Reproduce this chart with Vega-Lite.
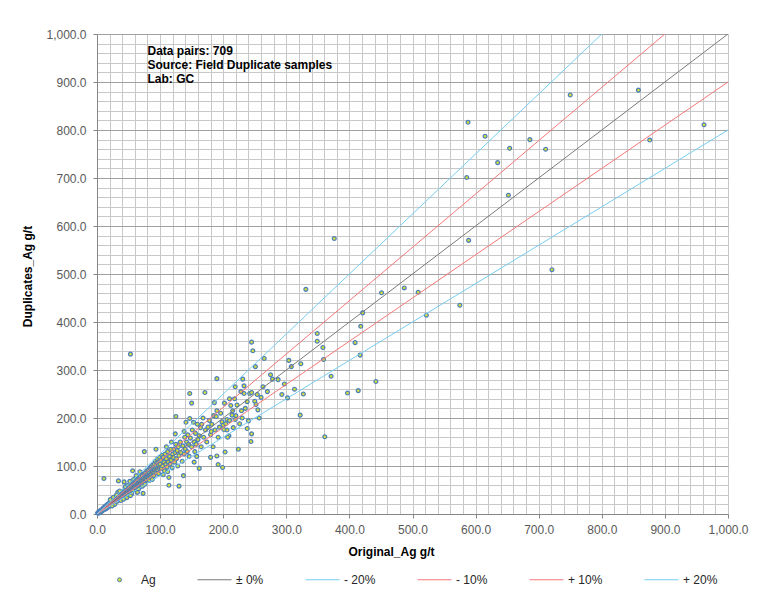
{
 "$schema": "https://vega.github.io/schema/vega-lite/v6.json",
 "width": 631,
 "height": 480,
 "autosize": {"type": "none"},
 "padding": {"left": 97, "top": 34, "right": 40, "bottom": 82},
 "background": "white",
 "config": {
  "view": {"stroke": null},
  "font": "Liberation Sans",
  "axis": {
   "format": ",.1f",
   "labelExpr": "datum.value % 100 === 0 ? datum.label : ''",
   "labelFlush": false, "labelOverlap": false,
   "labelFont": "Liberation Sans", "labelFontSize": 12, "labelColor": "#595959",
   "tickSize": 4,
   "tickColor": {"condition": {"test": "datum.value % 100 === 0", "value": "#868686"}, "value": "transparent"},
   "grid": true, "gridWidth": 1,
   "domainColor": "#868686",
   "titleFont": "Liberation Sans", "titleFontSize": 12, "titleFontWeight": "bold", "titleColor": "#000000"
  },
  "axisX": {"labelPadding": 6, "gridColor": "#c8c8c8", "titleX": 294, "titleY": 37, "titleBaseline": "middle", "titleAlign": "center"},
  "axisY": {"labelPadding": 7, "gridColor": {"condition": {"test": "datum.value % 100 === 0", "value": "#a0a0a0"}, "value": "#c8c8c8"}, "titleX": -70, "titleY": 242, "titleAngle": 270, "titleBaseline": "middle", "titleAlign": "center"}
 },
 "datasets": {
  "lines": [
   {"s": "± 0%", "x": 0, "y": 0}, {"s": "± 0%", "x": 1000, "y": 1000},
   {"s": "- 20%", "x": 0, "y": 0}, {"s": "- 20%", "x": 1000, "y": 800},
   {"s": "- 10%", "x": 0, "y": 0}, {"s": "- 10%", "x": 1000, "y": 900},
   {"s": "+ 10%", "x": 0, "y": 0}, {"s": "+ 10%", "x": 900, "y": 1000},
   {"s": "+ 20%", "x": 0, "y": 0}, {"s": "+ 20%", "x": 800, "y": 1000}
  ],
  "pts": [
   {"x":1,"y":2},{"x":2,"y":1.5},{"x":2.5,"y":4},{"x":3,"y":3},{"x":4,"y":2.5},{"x":4.5,"y":6},{"x":5,"y":5},{"x":6,"y":4.5},{"x":6.5,"y":8},{"x":7,"y":7},{"x":8,"y":6},{"x":9,"y":11},{"x":9.5,"y":8},
   {"x":10,"y":12},{"x":10.5,"y":9},{"x":11,"y":10},{"x":11.5,"y":14},{"x":12,"y":13},{"x":12.5,"y":10},{"x":13,"y":16},{"x":13.5,"y":12},{"x":14,"y":15},{"x":14.5,"y":11},{"x":15,"y":18},{"x":15.5,"y":14},{"x":16,"y":17},{"x":16.5,"y":13},{"x":17,"y":20},{"x":17.5,"y":16},{"x":18,"y":19},{"x":18.5,"y":15},{"x":19,"y":22},{"x":19.5,"y":17},
   {"x":20,"y":21},{"x":20.5,"y":25},{"x":21,"y":18},{"x":21.5,"y":23},{"x":22,"y":20},{"x":22.5,"y":27},{"x":23,"y":24},{"x":23.5,"y":19},{"x":24,"y":26},{"x":24.5,"y":29},{"x":25,"y":22},{"x":25.5,"y":27},{"x":26,"y":24},{"x":26.5,"y":31},{"x":27,"y":25},{"x":27.5,"y":22},{"x":28,"y":30},{"x":28.5,"y":26},{"x":29,"y":33},{"x":29.5,"y":27},{"x":21,"y":30},{"x":26,"y":35},{"x":28,"y":20},{"x":24,"y":17},{"x":30,"y":28},
   {"x":30.5,"y":34},{"x":31,"y":30},{"x":31.5,"y":26},{"x":32,"y":36},{"x":32.5,"y":31},{"x":33,"y":29},{"x":33.5,"y":38},{"x":34,"y":33},{"x":34.5,"y":40},{"x":35,"y":31},{"x":35.5,"y":37},{"x":36,"y":34},{"x":36.5,"y":29},{"x":37,"y":42},{"x":37.5,"y":35},{"x":38,"y":39},{"x":38.5,"y":33},{"x":39,"y":44},{"x":39.5,"y":36},{"x":40,"y":38},{"x":33,"y":45},{"x":36,"y":48},{"x":38,"y":28},{"x":34,"y":69},{"x":31,"y":40},
   {"x":40.5,"y":43},{"x":41,"y":37},{"x":41.5,"y":46},{"x":42,"y":40},{"x":42.5,"y":35},{"x":43,"y":48},{"x":43.5,"y":42},{"x":44,"y":39},{"x":44.5,"y":50},{"x":45,"y":44},{"x":45.5,"y":40},{"x":46,"y":52},{"x":46.5,"y":45},{"x":47,"y":41},{"x":47.5,"y":54},{"x":48,"y":47},{"x":48.5,"y":43},{"x":49,"y":51},{"x":49.5,"y":38},{"x":50,"y":49},{"x":43,"y":67},{"x":45,"y":57},{"x":47,"y":34},{"x":49,"y":60},{"x":42,"y":31},
   {"x":50.5,"y":55},{"x":51,"y":46},{"x":51.5,"y":52},{"x":52,"y":58},{"x":52.5,"y":49},{"x":53,"y":44},{"x":53.5,"y":61},{"x":54,"y":53},{"x":54.5,"y":48},{"x":55,"y":57},{"x":55.5,"y":63},{"x":56,"y":51},{"x":56.5,"y":90},{"x":57,"y":55},{"x":57.5,"y":60},{"x":58,"y":50},{"x":58.5,"y":65},{"x":59,"y":56},{"x":59.5,"y":62},{"x":60,"y":54},{"x":52,"y":68},{"x":55,"y":42},{"x":58,"y":72},{"x":53,"y":38},{"x":60,"y":66},
   {"x":60.5,"y":59},{"x":61,"y":64},{"x":61.5,"y":55},{"x":62,"y":70},{"x":62.5,"y":60},{"x":63,"y":49},{"x":63.5,"y":66},{"x":64,"y":58},{"x":64.5,"y":73},{"x":65,"y":63},{"x":65.5,"y":68},{"x":66,"y":57},{"x":66.5,"y":75},{"x":67,"y":64},{"x":67.5,"y":70},{"x":68,"y":60},{"x":68.5,"y":78},{"x":69,"y":66},{"x":69.5,"y":62},{"x":70,"y":72},{"x":62,"y":80},{"x":66,"y":52},{"x":68,"y":88},{"x":64,"y":45},{"x":70,"y":58},
   {"x":70.5,"y":68},{"x":71,"y":76},{"x":71.5,"y":64},{"x":72,"y":80},{"x":72.5,"y":70},{"x":73,"y":43},{"x":73.5,"y":75},{"x":74,"y":67},{"x":74.5,"y":84},{"x":75,"y":130},{"x":75.5,"y":73},{"x":76,"y":79},{"x":76.5,"y":69},{"x":77,"y":86},{"x":77.5,"y":74},{"x":78,"y":81},{"x":78.5,"y":71},{"x":79,"y":90},{"x":79.5,"y":77},{"x":80,"y":84},{"x":72,"y":58},{"x":76,"y":62},
   {"x":80.5,"y":78},{"x":81,"y":88},{"x":81.5,"y":74},{"x":82,"y":92},{"x":82.5,"y":80},{"x":83,"y":70},{"x":83.5,"y":86},{"x":84,"y":96},{"x":84.5,"y":81},{"x":85,"y":76},{"x":85.5,"y":90},{"x":86,"y":99},{"x":86.5,"y":83},{"x":87,"y":94},{"x":87.5,"y":72},{"x":88,"y":88},{"x":88.5,"y":102},{"x":89,"y":85},{"x":89.5,"y":95},{"x":90,"y":80},
   {"x":90.5,"y":92},{"x":91,"y":104},{"x":91.5,"y":87},{"x":92,"y":97},{"x":92.5,"y":110},{"x":93,"y":90},{"x":93.5,"y":135},{"x":94,"y":100},{"x":94.5,"y":86},{"x":95,"y":107},{"x":95.5,"y":95},{"x":96,"y":115},{"x":96.5,"y":92},{"x":97,"y":102},{"x":97.5,"y":84},{"x":98,"y":108},{"x":98.5,"y":97},{"x":99,"y":118},{"x":99.5,"y":94},{"x":100,"y":104},
   {"x":101,"y":112},{"x":102,"y":95},{"x":103,"y":122},{"x":104,"y":100},{"x":105,"y":118},{"x":106,"y":108},{"x":107,"y":90},{"x":108,"y":125},{"x":109,"y":103},{"x":110,"y":115},{"x":111,"y":98},{"x":112,"y":130},{"x":113,"y":108},{"x":114,"y":76},{"x":114,"y":60},{"x":115,"y":120},{"x":116,"y":104},{"x":117,"y":135},{"x":118,"y":112},{"x":119,"y":96},{"x":120,"y":125},{"x":110,"y":140},{"x":105,"y":82},{"x":118,"y":150},{"x":112,"y":88},
   {"x":121,"y":118},{"x":122,"y":135},{"x":123,"y":108},{"x":124,"y":128},{"x":125,"y":145},{"x":126,"y":115},{"x":127,"y":132},{"x":128,"y":100},{"x":129,"y":140},{"x":130,"y":58},{"x":130,"y":122},{"x":132,"y":150},{"x":133,"y":128},{"x":135,"y":110},{"x":136,"y":142},{"x":137,"y":80},{"x":138,"y":172},{"x":138,"y":125},{"x":139,"y":160},{"x":140,"y":135},
   {"x":141,"y":191},{"x":142,"y":150},{"x":143,"y":130},{"x":144,"y":165},{"x":145,"y":145},{"x":146,"y":120},{"x":147,"y":199},{"x":147,"y":251},{"x":148,"y":158},{"x":150,"y":231},{"x":150,"y":140},{"x":151,"y":175},{"x":153,"y":191},{"x":154,"y":150},{"x":155,"y":130},{"x":156,"y":168},{"x":157,"y":145},{"x":159,"y":187},{"x":160,"y":155},{"x":158,"y":120},
   {"x":162,"y":163},{"x":164,"y":180},{"x":165,"y":140},{"x":166,"y":187},{"x":168,"y":200},{"x":169,"y":160},{"x":171,"y":253},{"x":172,"y":175},{"x":174,"y":150},{"x":176,"y":181},{"x":178,"y":195},{"x":180,"y":165},{"x":181,"y":172},{"x":182,"y":187},{"x":184,"y":140},{"x":185,"y":205},{"x":186,"y":232},{"x":187,"y":175},{"x":189,"y":203},{"x":190,"y":215},{"x":190,"y":282},{"x":192,"y":160},{"x":194,"y":181},{"x":196,"y":210},{"x":198,"y":192},{"x":200,"y":185},{"x":125,"y":203},{"x":124,"y":167},
   {"x":192,"y":103},{"x":199,"y":97},{"x":190,"y":121},{"x":162,"y":95},{"x":180,"y":118},{"x":154,"y":108},{"x":203,"y":129},{"x":209,"y":163},{"x":206,"y":175},{"x":206,"y":197},{"x":219,"y":197},{"x":214,"y":206},{"x":215,"y":215},{"x":229,"y":215},{"x":222,"y":227},{"x":202,"y":231},{"x":210,"y":240},{"x":238,"y":234},{"x":233,"y":251},{"x":242,"y":251},{"x":219,"y":265},{"x":233,"y":267},{"x":231,"y":281},
   {"x":201,"y":176},{"x":204,"y":188},{"x":207,"y":160},{"x":210,"y":195},{"x":212,"y":226},{"x":216,"y":180},{"x":218,"y":240},{"x":220,"y":205},{"x":224,"y":135},{"x":226,"y":188},{"x":228,"y":255},{"x":230,"y":200},{"x":235,"y":220},{"x":238,"y":178},{"x":240,"y":194},{"x":244,"y":151},{"x":245,"y":167},{"x":245,"y":253},{"x":247,"y":340},{"x":245,"y":358},{"x":250,"y":235},{"x":254,"y":249},{"x":255,"y":217},{"x":257,"y":200},{"x":252,"y":228},{"x":263,"y":265},{"x":265,"y":324},{"x":251,"y":307},{"x":260,"y":243},{"x":270,"y":255},{"x":275,"y":290},{"x":278,"y":281},{"x":287,"y":280},{"x":297,"y":271},{"x":293,"y":249},{"x":302,"y":242},{"x":304,"y":320},{"x":308,"y":307},{"x":313,"y":260},{"x":322,"y":206},{"x":323,"y":313},{"x":327,"y":250},{"x":331,"y":468},{"x":349,"y":376},{"x":349,"y":360},{"x":358,"y":347},{"x":359,"y":322},{"x":361,"y":161},{"x":371,"y":287},{"x":376,"y":574},{"x":397,"y":252},{"x":409,"y":357},{"x":414,"y":257},{"x":417,"y":331},{"x":418,"y":391},{"x":421,"y":419},{"x":442,"y":276},{"x":451,"y":461},{"x":487,"y":471},{"x":509,"y":462},{"x":522,"y":414},{"x":575,"y":435},{"x":588,"y":816},{"x":750,"y":873},{"x":858,"y":883},{"x":615,"y":787},{"x":686,"y":780},{"x":962,"y":811},{"x":654,"y":762},{"x":711,"y":760},{"x":876,"y":779},{"x":635,"y":732},{"x":586,"y":701},{"x":652,"y":664},{"x":589,"y":570},{"x":721,"y":509},{"x":53,"y":333},{"x":11,"y":74}
  ]
 },
 "layer": [
  {
   "data": {"name": "pts"},
   "mark": {"type": "point", "filled": false, "fill": "#d6de3a", "fillOpacity": 1, "size": 15, "strokeWidth": 1.2, "opacity": 1},
   "encoding": {
    "x": {
     "field": "x", "type": "quantitative",
     "scale": {"domain": [0, 1000], "nice": false},
     "axis": {"values": [0,20,40,60,80,100,120,140,160,180,200,220,240,260,280,300,320,340,360,380,400,420,440,460,480,500,520,540,560,580,600,620,640,660,680,700,720,740,760,780,800,820,840,860,880,900,920,940,960,980,1000], "title": "Original_Ag g/t"}
    },
    "y": {
     "field": "y", "type": "quantitative",
     "scale": {"domain": [0, 1000], "nice": false},
     "axis": {"values": [0,20,40,60,80,100,120,140,160,180,200,220,240,260,280,300,320,340,360,380,400,420,440,460,480,500,520,540,560,580,600,620,640,660,680,700,720,740,760,780,800,820,840,860,880,900,920,940,960,980,1000], "title": "Duplicates_Ag g/t"}
    },
    "color": {"datum": "Ag", "type": "nominal"}
   }
  },
  {
   "data": {"name": "lines"},
   "mark": {"type": "line", "strokeWidth": 1, "clip": true},
   "encoding": {
    "x": {
     "field": "x", "type": "quantitative",
     "axis": {"values": [0,20,40,60,80,100,120,140,160,180,200,220,240,260,280,300,320,340,360,380,400,420,440,460,480,500,520,540,560,580,600,620,640,660,680,700,720,740,760,780,800,820,840,860,880,900,920,940,960,980,1000], "title": "Original_Ag g/t"}
    },
    "y": {
     "field": "y", "type": "quantitative",
     "axis": {"values": [0,20,40,60,80,100,120,140,160,180,200,220,240,260,280,300,320,340,360,380,400,420,440,460,480,500,520,540,560,580,600,620,640,660,680,700,720,740,760,780,800,820,840,860,880,900,920,940,960,980,1000], "title": "Duplicates_Ag g/t"}
    },
    "color": {
     "field": "s", "type": "nominal",
     "scale": {"domain": ["Ag", "± 0%", "- 20%", "- 10%", "+ 10%", "+ 20%"], "range": ["#4a7ebb", "#7a7a7a", "#78cdf0", "#f57878", "#f57878", "#78cdf0"]},
     "legend": {
      "orient": "none", "legendX": 5, "legendY": 528, "direction": "horizontal", "title": null,
      "symbolType": "stroke", "symbolSize": 1156, "symbolStrokeWidth": 1,
      "labelFont": "Liberation Sans", "labelFontSize": 12, "labelColor": "#262626", "labelOffset": 4,
      "columnPadding": 39, "padding": 0,
      "encode": {
       "symbols": {
        "update": {
         "shape": {"signal": "datum.value === 'Ag' ? 'circle' : 'stroke'"},
         "size": {"signal": "datum.value === 'Ag' ? 16 : 1156"},
         "fill": {"signal": "datum.value === 'Ag' ? '#d6de3a' : 'transparent'"},
         "stroke": {"signal": "datum.value === 'Ag' ? '#4a7ebb' : datum.value === '± 0%' ? '#333333' : scale('color', datum.value)"},
         "strokeWidth": {"value": 1},
         "opacity": {"value": 1}
        }
       }
      }
     }
    }
   }
  },
  {
   "data": {"values": [{"t": 1}]},
   "mark": {"type": "text", "align": "left", "baseline": "top", "font": "Liberation Sans", "fontSize": 12, "fontWeight": "bold", "lineHeight": 14, "fill": "#000000"},
   "encoding": {
    "x": {
     "datum": 80, "type": "quantitative",
     "axis": {"values": [0,20,40,60,80,100,120,140,160,180,200,220,240,260,280,300,320,340,360,380,400,420,440,460,480,500,520,540,560,580,600,620,640,660,680,700,720,740,760,780,800,820,840,860,880,900,920,940,960,980,1000], "title": "Original_Ag g/t"}
    },
    "y": {
     "datum": 974, "type": "quantitative",
     "axis": {"values": [0,20,40,60,80,100,120,140,160,180,200,220,240,260,280,300,320,340,360,380,400,420,440,460,480,500,520,540,560,580,600,620,640,660,680,700,720,740,760,780,800,820,840,860,880,900,920,940,960,980,1000], "title": "Duplicates_Ag g/t"}
    },
    "text": {"value": ["Data pairs: 709", "Source: Field Duplicate samples", "Lab: GC"]}
   }
  }
 ]
}
